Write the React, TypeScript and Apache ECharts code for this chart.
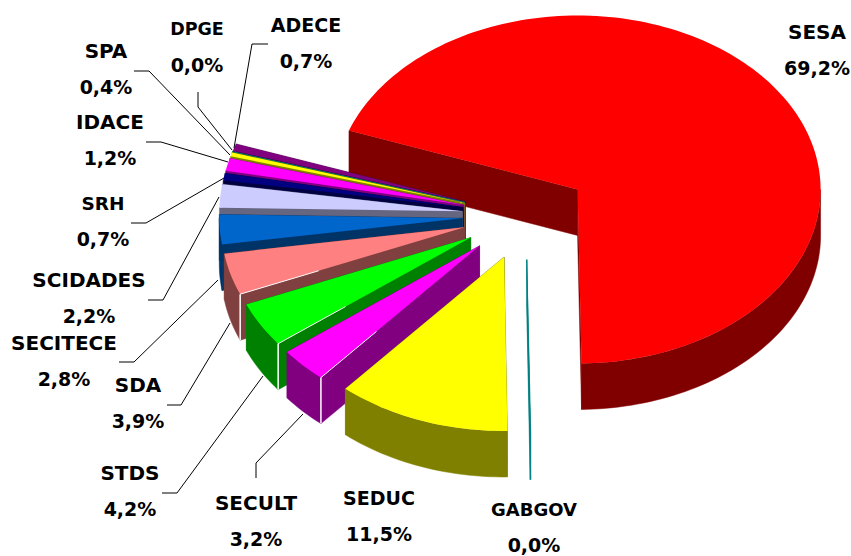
import React, { useEffect, useRef } from "react";
import * as echarts from "echarts";

// Data (percent), clockwise from the first slice
const sliceNames = ["SESA", "GABGOV", "SEDUC", "SECULT", "STDS", "SDA", "SECITECE", "SCIDADES", "SRH", "IDACE", "SPA", "DPGE", "ADECE"];
const sliceValues = [69.24, 0.04, 11.54, 3.24, 4.16, 3.86, 2.76, 2.16, 0.66, 1.16, 0.36, 0.03, 0.66];

// Styling and layout, index-aligned with the data
const topColors = ["#FF0000", "#008080", "#FFFF00", "#FF00FF", "#00FF00", "#FF8080", "#0066CC", "#CCCCFF", "#000080", "#FF00FF", "#FFFF00", "#008080", "#800080"];
const wallColors = ["#800000", "#008080", "#808000", "#800080", "#008000", "#804040", "#003366", "#666680", "#000040", "#800080", "#808000", "#004040", "#400040"];
const highlightedCorners = ["SECULT", "STDS", "SDA"];
const drawOrder = [0, 12, 11, 10, 9, 8, 7, 6, 5, 4, 3, 2, 1];
const nameFontSizes = [20, 18, 19, 20, 20, 20, 20, 20, 18.5, 20, 20, 17.5, 19];

const labelCentres: number[][] = [
  [817, 32], [534, 509], [379, 498], [256, 503], [130, 473], [138, 385], [64, 343],
  [89, 280], [103, 203], [110, 122], [106, 51], [197, 29], [306, 25],
];
const leaderLines: (number[][] | null)[] = [
  null,
  null,
  null,
  [[256, 478], [256, 463], [303, 414]],
  [[162, 493], [177, 493], [263, 376]],
  [[167, 405], [181, 405], [230, 323]],
  [[119, 362], [134, 362], [218, 280]],
  [[148, 300], [163, 300], [219, 197]],
  [[131, 223], [146, 223], [224, 178]],
  [[146, 142], [161, 142], [228, 162]],
  [[134, 71], [149, 71], [230, 155]],
  [[198, 92], [198, 107], [232, 150]],
  [[268, 44], [252, 44], [234, 148]],
];

const CX = 525.8;
const CY = 215.3;
const RX = 243;
const RY = 174;
const DEPTH = 46;
const EXPLODE_X = 0.262;
const EXPLODE_Y = 0.255;
const START_DEG = 289.8;
const FULL_CIRCLE_PERCENT = 100;
const VALUE_FONT = 'bold 19px "DejaVu Sans"';
const LINE_GAP = 36;

const spans = (() => {
  let cur = START_DEG;
  return sliceValues.map((v) => {
    const s = cur;
    cur += (v / FULL_CIRCLE_PERCENT) * 360;
    return [s, cur];
  });
})();

const rad = (d: number) => (d * Math.PI) / 180;
const pt = (ax: number, ay: number, deg: number, dy = 0) => [
  ax + RX * Math.sin(rad(deg)),
  ay - RY * Math.cos(rad(deg)) + dy,
];

function frontArcs(s: number, e: number): number[][] {
  // parts of [s,e] where the outer wall faces the viewer (90..270 mod 360)
  const out: number[][] = [];
  for (const k of [0, 360]) {
    const a = Math.max(s, 90 + k);
    const b = Math.min(e, 270 + k);
    if (b > a) out.push([a, b]);
  }
  return out;
}

function arcPoints(ax: number, ay: number, s: number, e: number, dy = 0): number[][] {
  const n = Math.max(2, Math.ceil((e - s) / 1.5));
  const pts: number[][] = [];
  for (let i = 0; i <= n; i++) pts.push(pt(ax, ay, s + ((e - s) * i) / n, dy));
  return pts;
}

function renderSlice(params: any, api: any) {
  const idx = api.value(0) as number;
  const [s, e] = spans[idx];
  const mid = (s + e) / 2;
  const ax = CX + EXPLODE_X * RX * Math.sin(rad(mid));
  const ay = CY - EXPLODE_Y * RY * Math.cos(rad(mid));
  const wall = wallColors[idx];
  const top = topColors[idx];
  const wallStyle = { fill: wall, stroke: wall, lineWidth: 0.5 };
  const children: any[] = [];
  for (const edge of [s, e]) {
    const p = pt(ax, ay, edge);
    children.push({
      type: "polygon",
      shape: { points: [[ax, ay], p, [p[0], p[1] + DEPTH], [ax, ay + DEPTH]] },
      style: wallStyle,
    });
  }
  for (const [a, b] of frontArcs(s, e)) {
    const upper = arcPoints(ax, ay, a, b);
    const lower = arcPoints(ax, ay, a, b, DEPTH).reverse();
    children.push({ type: "polygon", shape: { points: upper.concat(lower) }, style: wallStyle });
  }
  children.push({
    type: "polygon",
    shape: { points: [[ax, ay], ...arcPoints(ax, ay, s, e)] },
    style: { fill: top, stroke: e - s < 0.5 ? top : "none", lineWidth: 0.5 },
  });
  if (highlightedCorners.includes(sliceNames[idx])) {
    const c = pt(ax, ay, s);
    children.push({
      type: "line",
      shape: { x1: c[0], y1: c[1], x2: c[0], y2: c[1] + DEPTH },
      style: { stroke: "#FFFFFF", lineWidth: 1.5 },
    });
    children.push({
      type: "line",
      shape: { x1: c[0], y1: c[1], x2: c[0] + (ax - c[0]) * 0.35, y2: c[1] + (ay - c[1]) * 0.35 },
      style: { stroke: "#FFFFFF", lineWidth: 1 },
    });
  }
  return { type: "group", children };
}

function renderLabel(params: any, api: any) {
  const idx = api.value(0) as number;
  const [x, y] = labelCentres[idx];
  const percent = sliceValues[idx].toFixed(1).replace(".", ",") + "%";
  const nameFont = `bold ${nameFontSizes[idx]}px "DejaVu Sans"`;
  const children: any[] = [
    { type: "text", style: { text: sliceNames[idx], x, y, fill: "#000000", font: nameFont, align: "center", verticalAlign: "middle" } },
    { type: "text", style: { text: percent, x, y: y + LINE_GAP, fill: "#000000", font: VALUE_FONT, align: "center", verticalAlign: "middle" } },
  ];
  const line = leaderLines[idx];
  if (line) {
    children.push({
      type: "polyline",
      shape: { points: line },
      style: { stroke: "#000000", lineWidth: 1, fill: "none" },
    });
  }
  return { type: "group", children };
}

export default function App() {
  const ref = useRef<HTMLDivElement>(null);
  useEffect(() => {
    const chart = echarts.init(ref.current!, undefined, { renderer: "svg" });
    chart.setOption({
      animation: false,
      backgroundColor: "#FFFFFF",
      series: [
        {
          type: "custom",
          coordinateSystem: "none",
          silent: true,
          renderItem: renderSlice,
          data: drawOrder.map((i) => [i, sliceValues[i]]),
          z: 2,
        },
        {
          type: "custom",
          coordinateSystem: "none",
          silent: true,
          renderItem: renderLabel,
          data: sliceNames.map((_, i) => [i, sliceValues[i]]),
          z: 3,
        },
      ],
    });
    return () => chart.dispose();
  }, []);
  return <div ref={ref} style={{ position: "absolute", left: 0, top: 0, width: 851, height: 556 }} />;
}
